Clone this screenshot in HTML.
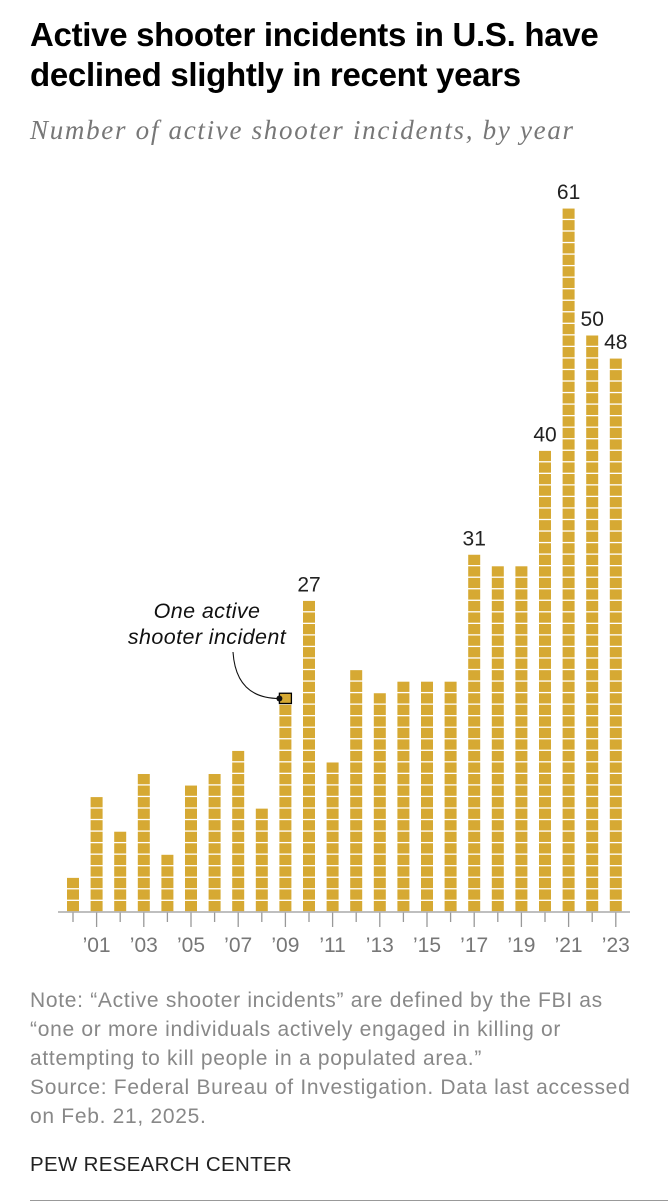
<!DOCTYPE html>
<html><head><meta charset="utf-8"><style>
body{margin:0;background:#fff;width:668px;height:1204px;overflow:hidden;font-family:"Liberation Sans",sans-serif}
.t{position:absolute;left:30px;top:15px;font-weight:bold;font-size:33px;line-height:40px;color:#000;letter-spacing:-0.3px;white-space:nowrap}
.s{position:absolute;left:30px;top:115px;font-family:"Liberation Serif",serif;font-style:italic;font-size:27px;letter-spacing:1.7px;color:#777;white-space:nowrap}
.n{position:absolute;left:30px;top:986px;font-size:21px;line-height:29px;color:#888;white-space:nowrap;letter-spacing:0.7px}
.p{position:absolute;left:30px;top:1153px;font-size:20.5px;color:#222;letter-spacing:0.3px}
.r{position:absolute;left:30px;top:1200px;width:638px;height:1px;background:#999}
</style></head><body>
<div class="t">Active shooter incidents in U.S. have<br>declined slightly in recent years</div>
<div class="s">Number of active shooter incidents, by year</div>
<svg id="c" width="668" height="980" style="position:absolute;left:0;top:0"></svg>
<div class="n">Note: “Active shooter incidents” are defined by the FBI as<br>“one or more individuals actively engaged in killing or<br>attempting to kill people in a populated area.”<br>Source: Federal Bureau of Investigation. Data last accessed<br>on Feb. 21, 2025.</div>
<div class="p">PEW RESEARCH CENTER</div>
<div class="r"></div>
<script>
const years=[2000,2001,2002,2003,2004,2005,2006,2007,2008,2009,2010,2011,2012,2013,2014,2015,2016,2017,2018,2019,2020,2021,2022,2023];
const counts=[3,10,7,12,5,11,12,14,9,19,27,13,21,19,20,20,20,31,30,30,40,61,50,48];
const labeledYears=[2010,2017,2020,2021,2022,2023];
const NS="http://www.w3.org/2000/svg";
const svg=document.getElementById('c');
const base=912,unit=11.54,x0=73,step=23.6,bw=12;
const X=i=>x0+i*step;
const Y=v=>base-v*unit;
function mk(t,a){const e=document.createElementNS(NS,t);for(const k in a)e.setAttribute(k,a[k]);svg.appendChild(e);return e;}
counts.forEach((v,i)=>{
  const g=document.createElementNS(NS,'g');
  
  
  svg.appendChild(g);
  for(let k=0;k<v;k++){
    const r=document.createElementNS(NS,'rect');
    r.setAttribute('x',X(i)-bw/2);r.setAttribute('y',Y(k+1)+0.5);
    r.setAttribute('width',bw);r.setAttribute('height',unit-1.3);
    r.setAttribute('fill','#d6a933');
    if(years[i]===2009&&k===v-1){r.setAttribute('stroke','#000');r.setAttribute('stroke-width','1.3');}
    g.appendChild(r);
  }
  if(labeledYears.includes(years[i])){
    const t=mk('text',{x:X(i),y:Y(v)-9,'text-anchor':'middle','font-size':'21','fill':'#222','font-family':'Liberation Sans'});
    t.textContent=v;
    
    
  }
  const odd=years[i]%2===1;
  const tk=mk('line',{x1:X(i),x2:X(i),y1:base,y2:base+(odd?15:10),stroke:'#999','stroke-width':'1.3'});
  
  
  if(odd){
    const l=mk('text',{x:X(i),y:base+40,'text-anchor':'middle','font-size':'21','fill':'#777','font-family':'Liberation Sans'});
    l.textContent='’'+String(years[i]%100).padStart(2,'0');
    
    
  }
});
const ax=mk('line',{x1:58,x2:630,y1:base,y2:base,stroke:'#aaa','stroke-width':'1.5'});


const i9=years.indexOf(2009);
const ax9=X(i9)-bw/2, ay9=Y(counts[i9])+unit/2;
const ann=mk('text',{x:207,y:618,'text-anchor':'middle','font-size':'21.5','font-style':'italic','fill':'#111','font-family':'Liberation Sans','letter-spacing':'0.4'});
ann.innerHTML='<tspan x="207">One active</tspan><tspan x="207" dy="26">shooter incident</tspan>';


const p=mk('path',{d:`M233 652 Q236 ${ay9} ${ax9} ${ay9}`,fill:'none',stroke:'#111','stroke-width':'1.1'});


const d=mk('circle',{cx:ax9,cy:ay9,r:3,fill:'#111'});


</script>
</body></html>
